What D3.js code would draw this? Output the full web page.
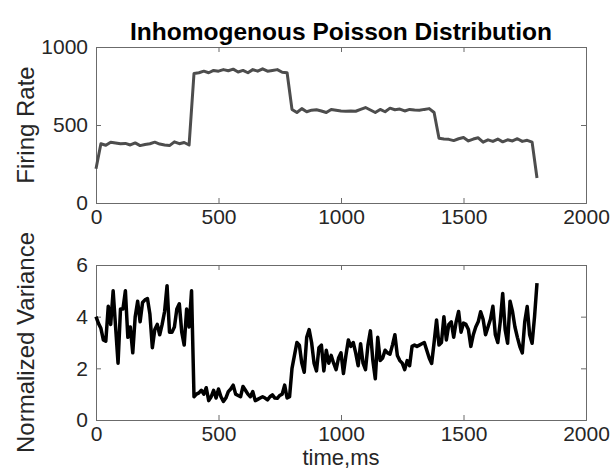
<!DOCTYPE html>
<html>
<head>
<meta charset="utf-8">
<script src="https://cdn.jsdelivr.net/npm/d3@7/dist/d3.min.js"></script>
<style>
  body { margin: 0; background: #fff; }
  text { font-family: "Liberation Sans", Arial, Helvetica, sans-serif; }
</style>
</head>
<body>
<div id="chart"></div>
<script>
// firing rate, sampled every 20 ms from 0 to 1800
const rateStep = 20;
const rateValues = [
  220, 380, 370, 390, 385, 380, 382, 372, 385, 368, 375, 380, 390, 378, 372, 368, 392, 380, 388, 372,
  830, 835, 845, 835, 850, 845, 855, 848, 858, 840, 850, 835, 855, 845, 860, 845, 850, 855, 838, 835,
  600, 580, 605, 585, 595, 598, 590, 580, 600, 595, 590, 588, 590, 588, 600, 612, 596, 580, 600, 585,
  608, 598, 602, 590, 600, 596, 594, 600, 605, 580,
  415, 410, 408, 400, 412, 420, 398, 410, 418, 390, 405, 395, 410, 392, 405, 398, 412, 395, 402, 390,
  160
];

// normalized variance, sampled every 10 ms from 0 to 1800
const varStep = 10;
const varValues = [
  4.0, 3.74, 3.55, 3.1, 3.05, 4.4, 3.7, 5.0, 3.6, 2.2,
  4.3, 4.3, 5.0, 3.2, 3.6, 2.6, 4.0, 4.6, 3.8, 4.55,
  4.65, 4.7, 4.1, 2.8, 3.5, 3.7, 3.3, 3.7, 4.2, 5.2,
  3.4, 3.4, 3.6, 4.3, 4.5, 3.4, 2.9, 4.3, 3.6, 5.0,
  0.9,
  1.0, 1.05, 1.15, 1.0, 1.25, 0.75, 0.9, 1.15, 0.85, 1.2,
  0.9, 0.72, 0.85, 1.1, 1.2, 1.35, 1.0, 0.95, 0.9, 1.3,
  1.15, 1.0, 0.9, 1.1, 0.75, 0.8, 0.85, 0.9, 0.85, 0.78,
  0.9, 0.97, 0.85, 0.84, 0.95, 1.0, 1.35, 0.85, 0.9, 2.0,
  2.5, 3.0, 2.9, 2.2, 1.85, 3.2, 3.5, 3.0, 2.2, 1.9,
  2.8, 2.9, 1.9, 2.7, 2.2, 2.5, 2.2, 1.95, 2.4, 2.6,
  1.8, 2.5, 3.1, 2.85, 3.0, 2.6, 2.1, 2.95, 2.2, 1.95,
  2.9, 3.45, 2.3, 1.6, 3.2, 2.3, 2.4, 2.7, 2.6, 2.55,
  2.9, 3.3, 2.5, 2.3, 2.2, 1.95, 2.3, 2.1, 2.85, 2.9,
  2.85, 2.9, 2.95, 3.0, 2.7, 2.4, 2.19, 3.0, 3.87, 2.9,
  3.0, 4.0, 3.1, 3.7, 3.8, 3.2, 3.8, 4.2, 3.4, 3.75,
  3.7, 3.5, 2.85, 3.3, 3.6, 3.8, 4.19, 3.9, 3.3, 3.6,
  3.9, 4.4, 3.3, 3.0, 3.8, 4.9, 3.5, 2.97, 4.6, 4.2,
  3.6, 3.2, 2.84, 2.6, 3.8, 4.39, 3.3, 2.97, 4.0, 5.3
];

const xTicks = [0, 500, 1000, 1500, 2000];
const rateTicks = [0, 500, 1000];
const varTicks = [0, 2, 4, 6];

const chartTitle = 'Inhomogenous Poisson Distribution';
const xLabel = 'time,ms';
const rateLabel = 'Firing Rate';
const varLabel = 'Normalized Variance';

const width = 613, height = 471;
const left = 96, right = 586;
const axisColor = '#6b6b6b';
const textColor = '#262626';

const svg = d3.select('#chart').append('svg')
    .attr('width', width)
    .attr('height', height);

const scaleX = d3.scaleLinear().domain([0, 2000]).range([left, right]);
const plainFmt = d3.format('d');

// draws one subplot box with inward ticks on all four sides
function drawPanel(top, bottom, yMax, yTicks, values, step, lineColor, lineWidth, yTitle) {
  const scaleY = d3.scaleLinear().domain([0, yMax]).range([bottom, top]);
  const g = svg.append('g');

  g.append('g')
      .attr('transform', 'translate(0,' + bottom + ')')
      .call(d3.axisBottom(scaleX).tickValues(xTicks).tickSize(-5).tickPadding(6).tickFormat(plainFmt));
  g.append('g')
      .attr('transform', 'translate(0,' + top + ')')
      .call(d3.axisTop(scaleX).tickValues(xTicks).tickSize(-5).tickFormat(''));
  g.append('g')
      .attr('transform', 'translate(' + left + ',0)')
      .call(d3.axisLeft(scaleY).tickValues(yTicks).tickSize(-5).tickPadding(8).tickFormat(plainFmt));
  g.append('g')
      .attr('transform', 'translate(' + right + ',0)')
      .call(d3.axisRight(scaleY).tickValues(yTicks).tickSize(-5).tickFormat(''));

  g.selectAll('.domain').attr('stroke', axisColor).attr('stroke-width', 1);
  g.selectAll('.tick line').attr('stroke', axisColor);
  g.selectAll('.tick text')
      .attr('fill', textColor)
      .style('font-size', '21px')
      .style('font-family', '"Liberation Sans", Arial, sans-serif');

  const line = d3.line()
      .x((d, i) => scaleX(i * step))
      .y(d => scaleY(d));
  g.append('path')
      .datum(values)
      .attr('fill', 'none')
      .attr('stroke', lineColor)
      .attr('stroke-width', lineWidth)
      .attr('stroke-linejoin', 'round')
      .attr('d', line);

  svg.append('text')
      .attr('transform', 'translate(34,' + ((top + bottom) / 2) + ') rotate(-90)')
      .attr('text-anchor', 'middle')
      .attr('fill', textColor)
      .style('font-size', '24px')
      .text(yTitle);
}

drawPanel(47, 203, 1000, rateTicks, rateValues, rateStep, '#4d4d4d', 3, rateLabel);
drawPanel(265, 420, 6, varTicks, varValues, varStep, '#000000', 3.5, varLabel);

svg.append('text')
    .attr('x', (left + right) / 2)
    .attr('y', 40)
    .attr('text-anchor', 'middle')
    .attr('fill', '#000')
    .style('font-size', '24.5px')
    .style('font-weight', 'bold')
    .text(chartTitle);

svg.append('text')
    .attr('x', (left + right) / 2)
    .attr('y', 465)
    .attr('text-anchor', 'middle')
    .attr('fill', textColor)
    .style('font-size', '22px')
    .text(xLabel);
</script>
</body>
</html>
